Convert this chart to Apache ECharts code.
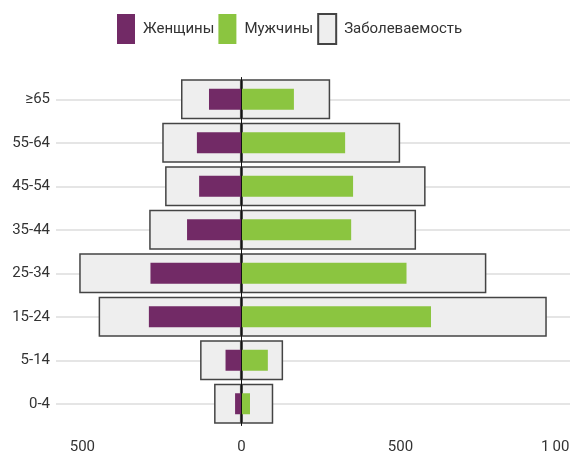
<!DOCTYPE html>
<html>
<head>
<meta charset="utf-8">
<script src="https://cdn.jsdelivr.net/npm/echarts@6/dist/echarts.min.js"></script>
<style>html,body{margin:0;padding:0;background:#fff}#c{width:570px;height:460px}</style>
</head>
<body>
<div id="c"></div>
<script>
var categories = ['0-4', '5-14', '15-24', '25-34', '35-44', '45-54', '55-64', '\u226565'];
var women = [20, 50, 291, 286, 171, 133, 140, 102];
var men = [27, 83, 596, 519, 345, 351, 326, 165];
var incidenceLeft = [86, 130, 449, 510, 290, 240, 249, 190];
var incidenceRight = [100, 131, 960, 770, 549, 579, 499, 279];
var xTickValues = [-500, 0, 500, 1000];
var xTickLabels = ['500', '0', '500', '1\u2009000'];

var FONT = "Roboto, 'Liberation Sans', sans-serif";
var C_W = '#722a66', C_M = '#8bc540', C_G = '#eeeeee', C_B = '#444444';

var chart = echarts.init(document.getElementById('c'), null, {renderer: 'canvas'});
chart.setOption({
  animation: false,
  textStyle: {fontFamily: FONT},
  legend: {
    left: 117, top: 13, padding: 0,
    itemWidth: 18, itemHeight: 30, itemGap: 4,
    icon: 'rect',
    data: ['Женщины', 'Мужчины', 'Заболеваемость'],
    textStyle: {fontFamily: FONT, fontSize: 15, color: '#333', padding: [0, 0, 0, 3]}
  },
  grid: {left: 56, right: 0, top: 77.5, bottom: 34.5, containLabel: false, outerBoundsMode: 'none'},
  xAxis: {
    type: 'value', min: -583, max: 1033,
    axisLine: {show: false}, axisTick: {show: false}, splitLine: {show: false},
    axisLabel: {
      customValues: xTickValues,
      margin: 14, fontSize: 15, color: '#333', fontFamily: FONT,
      hideOverlap: false,
      formatter: function (v) { var i = xTickValues.indexOf(v); return i >= 0 ? xTickLabels[i] : ''; }
    }
  },
  yAxis: [{
    type: 'category', data: categories,
    axisLine: {show: false, onZero: false}, axisTick: {show: false},
    axisLabel: {margin: 6, fontSize: 15, color: '#333', fontFamily: FONT},
    splitLine: {show: true, alignWithLabel: true, lineStyle: {color: '#dddddd', width: 1.5}}
  }, {
    type: 'category', data: categories, position: 'left', z: 5,
    axisLine: {show: true, onZero: true, lineStyle: {color: '#111', width: 1}},
    axisTick: {show: false}, axisLabel: {show: false}, splitLine: {show: false}
  }],
  series: [{
    name: 'Заболеваемость', type: 'bar', yAxisIndex: 0, barWidth: 40,
    data: incidenceLeft.map(function (v) { return -v; }),
    itemStyle: {color: C_G, borderColor: C_B, borderWidth: 1.5}
  }, {
    name: 'Заболеваемость', type: 'bar', yAxisIndex: 0, barWidth: 40, barGap: '-100%',
    data: incidenceRight,
    itemStyle: {color: C_G, borderColor: C_B, borderWidth: 1.5}
  }, {
    name: 'Женщины', type: 'bar', yAxisIndex: 1, barWidth: 21,
    data: women.map(function (v) { return -v; }),
    itemStyle: {color: C_W}
  }, {
    name: 'Мужчины', type: 'bar', yAxisIndex: 1, barWidth: 21, barGap: '-100%',
    data: men,
    itemStyle: {color: C_M}
  }]
});
</script>
</body>
</html>
